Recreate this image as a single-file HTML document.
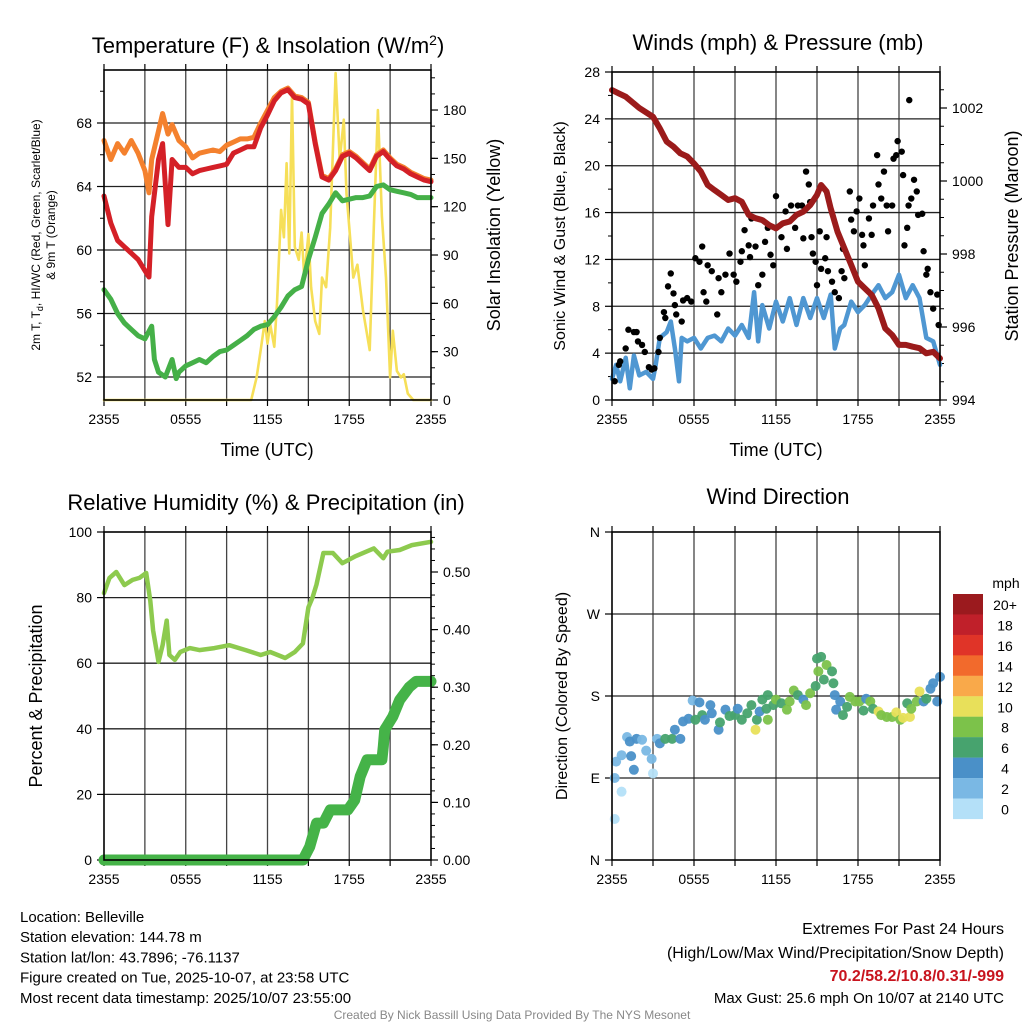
<!DOCTYPE html>
<html><head><meta charset="utf-8"><title>Belleville Meteogram</title>
<style>
html,body{margin:0;padding:0;background:#fff;}
svg{display:block;font-family:"Liberation Sans",Arial,sans-serif;}
</style></head>
<body>
<svg id="root" width="1024" height="1024" viewBox="0 0 1024 1024" xmlns="http://www.w3.org/2000/svg"></svg>
<script>
// ---------- DATA ----------
const xTickLabels = ["2355","0555","1155","1755","2355"];
// Panel 1: temperature (F)
const tempHours = [0,0.5,1,1.5,2,2.5,3,3.3,3.5,4,4.3,4.7,5,5.5,6,6.5,7,7.5,8,8.5,9,9.5,10,10.5,11,11.5,12,12.5,13,13.5,14,14.5,15,15.5,16,16.5,17,17.5,18,18.5,19,19.5,20,20.5,21,21.5,22,22.5,23,23.5,24];
const tempRed = [63.4,61.7,60.6,60.2,59.8,59.4,58.7,58.3,62.1,65.7,66.7,61.6,65.7,65.2,65.2,64.8,65.0,65.1,65.2,65.3,65.4,66.1,66.3,66.5,66.5,67.7,68.5,69.4,69.9,70.1,69.6,69.5,69.2,66.7,64.6,64.4,65.0,65.9,66.1,65.8,65.4,65.0,65.9,66.2,65.7,65.3,65.1,64.8,64.6,64.4,64.3];
const temp9m = [66.9,65.7,66.7,66.1,66.9,66.1,65.0,63.6,65.7,67.5,68.6,67.3,67.9,66.9,66.5,65.8,66.1,66.2,66.3,66.2,66.6,66.8,67.0,67.0,67.1,68.0,68.8,69.6,70.0,70.2,69.7,69.6,69.3,66.8,64.7,64.5,65.1,66.0,66.2,65.9,65.5,65.1,66.0,66.3,65.8,65.4,65.2,64.9,64.7,64.5,64.4];
const dewHours = [0,0.5,1,1.5,2,2.5,3,3.5,3.7,4,4.5,5,5.3,5.5,6,6.5,7,7.5,8,8.5,9,9.5,10,10.5,11,11.5,12,12.5,13,13.5,14,14.5,15,15.5,16,16.5,17,17.5,18,18.5,19,19.5,20,20.5,21,21.5,22,22.5,23,24];
const dewPoint = [57.5,56.9,56.0,55.4,55.0,54.6,54.4,55.2,53.1,52.3,52.0,53.1,51.9,52.3,52.7,52.9,53.1,52.9,53.3,53.6,53.7,54.0,54.3,54.6,55.0,55.2,55.3,55.8,56.4,57.1,57.5,57.7,59.4,60.8,62.3,62.9,63.6,63.1,63.2,63.3,63.3,63.4,64.0,64.1,63.8,63.7,63.6,63.5,63.3,63.3];
const solarHours = [0,10.8,11.2,11.5,11.8,12,12.2,12.5,12.7,13,13.2,13.4,13.6,13.8,14,14.3,14.5,14.7,15,15.2,15.5,15.8,16,16.3,16.6,17,17.3,17.6,17.8,18,18.3,18.6,19,19.5,19.8,20.1,20.4,20.7,21,21.2,21.5,21.8,22,22.3,22.7,24];
const solarValues = [0,0,14,31,49,35,47,33,60,118,101,147,91,190,95,87,104,76,103,70,49,41,76,70,107,203,149,174,128,107,76,84,56,31,107,180,114,76,14,43,18,14,16,4,0,0];
// Panel 2: winds (mph) and pressure (mb)
const windHours = [0,0.3,0.6,1,1.3,1.6,2,2.5,3,3.2,3.5,4,4.3,4.6,4.9,5.1,5.5,6,6.5,7,7.5,8,8.5,9,9.5,10,10.4,10.7,11,11.5,12,12.5,13,13.5,14,14.5,15,15.5,16,16.3,16.7,17,17.5,18,18.5,19,19.5,20,20.5,21,21.5,22,22.5,23,23.5,24];
const windSpeed = [1.8,3.0,1.6,3.6,1.0,3.8,2.1,2.4,1.8,3.0,5.3,5.8,6.7,4.4,1.6,5.3,5.0,5.3,4.4,5.3,5.5,5.0,6.1,5.5,6.4,5.3,9.2,5.0,8.1,6.1,8.4,6.7,8.7,6.4,8.7,7.0,8.7,7.0,9.0,4.4,6.1,6.4,8.4,7.5,8.1,9.0,9.8,8.7,9.2,10.7,8.7,9.8,8.7,5.3,5.0,3.0];
const gustHours = [0.2,0.5,0.6,1.0,1.2,1.6,1.8,1.9,2.2,2.4,2.7,2.9,3.1,3.4,3.5,3.8,3.9,4.1,4.3,4.5,4.6,4.7,5.1,5.2,5.5,5.8,6.1,6.4,6.6,6.7,6.9,7.0,7.3,7.7,7.8,8.0,8.3,8.6,8.9,9.1,9.4,9.5,9.7,10.0,10.1,10.2,10.5,10.7,11.0,11.2,11.4,11.6,11.8,12.0,12.4,12.7,12.8,13.1,13.4,13.6,13.9,14.0,14.2,14.4,14.5,14.6,14.7,14.9,15.0,15.2,15.3,15.6,15.7,15.8,16.1,16.3,16.6,16.8,16.9,17.0,17.4,17.5,17.7,17.9,18.1,18.3,18.4,18.5,18.8,19.0,19.1,19.4,19.5,19.7,19.9,20.1,20.2,20.5,20.6,20.8,20.9,21.2,21.3,21.4,21.6,21.7,21.75,21.9,22.1,22.3,22.4,22.7,22.8,23.0,23.1,23.3,23.5,23.8,23.9];
const gustSpeed = [1.6,3.0,3.3,4.4,6.0,5.8,5.8,5.0,4.7,4.1,2.8,2.6,2.7,4.1,5.3,7.5,7.0,9.7,10.8,9.1,8.1,7.3,6.7,8.5,8.7,8.4,12.1,11.8,13.1,9.2,8.4,11.5,11.0,7.3,10.4,9.2,10.7,12.5,10.7,10.1,11.8,12.7,14.5,13.2,12.2,15.5,13.1,9.8,10.7,13.5,14.7,12.4,11.5,17.4,13.9,16.1,12.9,16.6,14.7,16.6,16.6,13.8,19.5,18.4,16.9,13.9,12.5,11.8,9.8,14.4,11.2,12.1,13.9,11.0,10.1,9.2,8.7,11.0,12.9,10.4,17.8,15.4,14.4,16.1,17.2,14.1,13.2,11.5,15.5,14.1,16.6,20.9,18.4,17.2,19.5,16.6,14.4,16.6,20.6,20.9,22.1,21.2,19.2,13.2,14.7,16.6,25.6,17.2,18.8,17.8,15.8,15.9,12.7,10.7,11.2,9.2,7.8,9.0,6.4];
const presHours = [0,0.5,1,2,3,3.5,4,4.5,5,5.5,6,6.5,7,7.5,8,8.5,9,9.5,10,10.5,11,11.5,12,12.5,13,13.5,14,14.5,15,15.3,15.7,16,16.5,17,17.5,18,18.5,19,19.5,20,20.5,21,21.5,22,22.5,23,23.5,24];
const presValues = [1002.49,1002.40,1002.31,1002.0,1001.76,1001.44,1001.08,1000.94,1000.76,1000.67,1000.48,1000.26,999.89,999.75,999.62,999.48,999.53,999.43,999.07,998.98,998.93,998.79,998.70,998.84,998.89,999.07,999.16,999.34,999.62,999.89,999.71,999.25,998.61,998.16,997.70,997.24,997.06,996.88,996.51,995.96,995.78,995.51,995.51,995.46,995.42,995.28,995.32,995.14];
// Panel 3: RH (%) and precip (in)
const rhHours = [0,0.4,0.9,1.5,2.1,2.6,3.1,3.4,3.6,4.0,4.3,4.6,4.8,5.2,5.6,6.3,7.0,8.1,9.2,10.4,11.5,12.2,13.3,14.0,14.6,15.0,15.3,15.6,16.1,16.8,17.5,18.4,19.8,20.5,20.8,21.7,22.6,24];
const rhValues = [81.4,86,87.8,83.8,85.4,86,87.5,79,70,60.4,65.5,73,62.5,61,63.4,64.6,64,64.6,65.5,64,62.5,63.4,61.6,63.4,66,77,80,84,93.6,93.6,90.5,92.5,95,92,94,94.5,96,97];
const prHours = [0,14.6,15.1,15.6,16.1,16.6,17.9,18.4,18.8,19.3,20.4,20.5,20.6,21.2,21.7,22.4,22.9,24];
const prValues = [0,0,0.023,0.064,0.064,0.087,0.087,0.104,0.145,0.174,0.174,0.197,0.226,0.249,0.278,0.300,0.31,0.31];
// Panel 4: wind direction (deg) colored by speed (mph)
const dirHours = [0.2,0.7,0.2,0.3,0.7,1.1,1.3,1.4,1.6,1.8,2.2,2.5,2.9,3.0,3.3,3.5,3.9,4.4,4.6,5.0,5.2,5.6,5.9,6.1,6.4,6.6,6.8,7.2,7.3,7.8,7.9,8.3,8.6,9.0,9.2,9.5,9.9,10.2,10.5,10.6,10.8,11.0,11.3,11.4,11.4,11.8,12.0,12.4,12.8,13.0,13.3,13.6,14.0,14.2,14.5,14.9,15.1,15.0,15.3,15.5,15.7,16.1,16.2,16.3,16.4,16.7,16.9,17.2,17.4,17.8,18.1,18.4,18.6,18.9,19.1,19.5,19.7,20.1,20.5,20.8,21.1,21.3,21.6,21.8,21.9,22.3,22.5,22.8,23.0,23.3,23.5,23.8,24.0];
const dirValues = [45,75,90,108,115,135,130,114,99,133,132,120,111,95,133,128,133,133,143,133,152,155,175,154,173,159,154,170,161,143,151,165,158,159,166,154,161,170,143,154,163,176,166,154,181,170,176,172,165,174,186,181,176,170,183,191,207,221,223,198,214,207,194,181,165,174,159,168,179,174,174,164,177,174,166,163,159,157,157,162,154,156,172,157,166,174,185,174,177,188,194,174,201];
const dirSpeeds = [1,1,3,3,3,3,4.5,4.5,4.5,4.5,3,3,3,1,3,4.5,6.5,6.5,4.5,4.5,4.5,4.5,3,7,4.5,7,4.5,4.5,4.5,4.5,7,4.5,7,7,4.5,7,7,7,10.5,7,4.5,7,7,8.5,7,7,8.5,7,8.5,8.5,8.5,7,4.5,8.5,8.5,7,8.5,7,7,7,8.5,7,7,4.5,4.5,4.5,7,7,8.5,8.5,8.5,7,4.5,8.5,7,10.5,8.5,8.5,8.5,10.5,8.5,10.5,7,10.5,8.5,8.5,10.5,4.5,7,4.5,4.5,4.5,4.5];
const cbLabels = ["20+","18","16","14","12","10","8","6","4","2","0"];
const cbColors = ["#9b1a1e","#c0202a","#e03428","#f26a2c","#f9a94a","#e8e05a","#7cc24a","#47a36e","#4a90c8","#7ab8e4","#b4e0f8"];

// ---------- HELPERS ----------
const NS="http://www.w3.org/2000/svg";
const root=document.getElementById('root');
function mk(tag,parent,attrs){const e=document.createElementNS(NS,tag);for(const k in attrs)e.setAttribute(k,attrs[k]);(parent||root).appendChild(e);return e;}
function txt(parent,x,y,s,size,anchor,extra){const t=mk('text',parent,Object.assign({x:x,y:y,'font-size':size,'text-anchor':anchor||'middle',fill:'#000'},extra||{}));t.textContent=s;return t;}
function speedColor(s){let i=Math.min(10,Math.floor(s/2));return cbColors[10-i];}

function frame(g,P,hGridVals,yFn){
  for(let h=3;h<24;h+=3){const x=P.xs(h);const l=mk('line',g,{x1:x,x2:x,y1:P.y0,y2:P.y1,stroke:'#444','stroke-width':1.3});
    
    }
  hGridVals.forEach(v=>{const y=yFn(v);const l=mk('line',g,{x1:P.x0,x2:P.x1,y1:y,y2:y,stroke:'#222','stroke-width':1.3});
    
    });
  for(let h=0;h<=24;h+=3){const x=P.xs(h);
    mk('line',g,{x1:x,x2:x,y1:P.y1,y2:P.y1+6,stroke:'#000','stroke-width':1.2});
    mk('line',g,{x1:x,x2:x,y1:P.y0,y2:P.y0-6,stroke:'#000','stroke-width':1.2});}
  xTickLabels.forEach((s,i)=>{const t=txt(g,P.xs(i*6),P.y1+24,s,14);
    
    });
}
function border(g,P){const r=mk('rect',g,{x:P.x0,y:P.y0,width:P.x1-P.x0,height:P.y1-P.y0,fill:'none',stroke:'#000','stroke-width':1.6});
  
  }
function yTicks(g,P,side,vals,yFn,labels,minor){
  const x=side==='l'?P.x0:P.x1, d=side==='l'?-1:1;
  minor.forEach(v=>{const y=yFn(v);mk('line',g,{x1:x,x2:x+d*4,y1:y,y2:y,stroke:'#000','stroke-width':1});});
  vals.forEach((v,i)=>{const y=yFn(v);mk('line',g,{x1:x,x2:x+d*7,y1:y,y2:y,stroke:'#000','stroke-width':1.2});
    if(labels[i]!==null){const t=txt(g,x+d*12,y+5,labels[i],14,side==='l'?'end':'start');
      
      }});
}
function line(g,P,xs,ys,yFn,color,w,name){
  const pts=xs.map((h,i)=>P.xs(h).toFixed(1)+','+yFn(ys[i]).toFixed(1)).join(' ');
  const p=mk('polyline',g,{points:pts,fill:'none',stroke:color,'stroke-width':w,'stroke-linejoin':'round','stroke-linecap':'round'});
  
  
  return p;}
function rotText(g,x,y,s,size,name){const t=txt(g,x,y,s,size,'middle',{transform:'rotate(-90 '+x+' '+y+')'});
  
  return t;}
function mkPanel(x0,x1,y0,y1){return {x0,x1,y0,y1,xs:h=>x0+h*(x1-x0)/24};}
function range(a,b,s){const r=[];for(let v=a;v<=b+1e-9;v+=s)r.push(+v.toFixed(4));return r;}

// ---------- PANEL 1 ----------
const P1=mkPanel(104,431,70,400);
const yT=t=>377-(t-52)*15.875, yS=s=>400-s*1.611;
const g1=mk('g',root,{});


frame(g1,P1,[52,56,60,64,68],yT);
yTicks(g1,P1,'l',[52,56,60,64,68],yT,["52","56","60","64","68"],[54,58,62,66,70]);
yTicks(g1,P1,'r',range(0,180,30),yS,["0","30","60","90","120","150","180"],range(0,200,10));
line(g1,P1,solarHours,solarValues,yS,'#f6df58',2.6,'solar-insolation-line');
line(g1,P1,dewHours,dewPoint,yT,'#45b048',5,'dewpoint-line');
line(g1,P1,tempHours,temp9m,yT,'#f4812e',5,'9m-temperature-line');
line(g1,P1,tempHours,tempRed,yT,'#d42027',5,'2m-temperature-line');
border(g1,P1);
let t;
t=txt(g1,268,53,'',22);t.innerHTML='Temperature (F) &amp; Insolation (W/m<tspan dy="-8" font-size="14">2</tspan><tspan dy="8">)</tspan>';


t=txt(g1,267,456,'Time (UTC)',18);


t=txt(g1,40,235,'',12,'middle',{transform:'rotate(-90 40 235)'});t.innerHTML='2m T, T<tspan font-size="9" dy="3">d</tspan><tspan dy="-3">, HI/WC (Red, Green, Scarlet/Blue)</tspan>';


rotText(g1,55,235,'& 9m T (Orange)',12,'left-y-axis-title-line2');
rotText(g1,500,235,'Solar Insolation (Yellow)',18,'right-y-axis-title');

// ---------- PANEL 2 ----------
const P2=mkPanel(612,940,72,400);
const yW=w=>400-w*328/28, yP=p=>400-(p-994)*36.5;
const g2=mk('g',root,{});


frame(g2,P2,range(4,24,4),yW);
yTicks(g2,P2,'l',range(0,28,4),yW,["0","4","8","12","16","20","24","28"],range(2,26,4));
yTicks(g2,P2,'r',[994,996,998,1000,1002],yP,["994","996","998","1000","1002"],range(994,1002.9,0.5));
line(g2,P2,windHours,windSpeed,yW,'#4f97d2',4.5,'sonic-wind-line');
gustHours.forEach((h,i)=>{const c=mk('circle',g2,{cx:P2.xs(h),cy:yW(gustSpeed[i]),r:3.2,fill:'#000'});
  
  });
line(g2,P2,presHours,presValues,yP,'#9b1b1b',6,'pressure-line');
border(g2,P2);
t=txt(g2,778,50,'Winds (mph) & Pressure (mb)',22);


t=txt(g2,776,456,'Time (UTC)',18);


rotText(g2,565,236,'Sonic Wind & Gust (Blue, Black)',16,'left-y-axis-title');
rotText(g2,1018,236,'Station Pressure (Maroon)',18,'right-y-axis-title');

// ---------- PANEL 3 ----------
const P3=mkPanel(104,431,532,860);
const yR=r=>860-r*3.28, yPr=p=>860-p*576;
const g3=mk('g',root,{});


frame(g3,P3,range(20,80,20),yR);
yTicks(g3,P3,'l',range(0,100,20),yR,["0","20","40","60","80","100"],[]);
yTicks(g3,P3,'r',range(0,0.5,0.1),yPr,["0.00","0.10","0.20","0.30","0.40","0.50"],range(0,0.56,0.02));
line(g3,P3,rhHours,rhValues,yR,'#8dca4e',4.5,'relative-humidity-line');
line(g3,P3,prHours,prValues,yPr,'#45b348',11,'precipitation-line');
border(g3,P3);
t=txt(g3,266,510,'Relative Humidity (%) & Precipitation (in)',22);


rotText(g3,42,696,'Percent & Precipitation',18,'left-y-axis-title');

// ---------- PANEL 4 ----------
const P4=mkPanel(612,940,532,860);
const yD=d=>860-d*328/360;
const g4=mk('g',root,{});


frame(g4,P4,[90,180,270],yD);
yTicks(g4,P4,'l',[0,90,180,270,360],yD,["N","E","S","W","N"],[]);
dirHours.forEach((h,i)=>{const c=mk('circle',g4,{cx:P4.xs(h),cy:yD(dirValues[i]),r:5,fill:speedColor(dirSpeeds[i]),'fill-opacity':0.95});
  
  });
border(g4,P4);
t=txt(g4,778,504,'Wind Direction',22);


rotText(g4,567,696,'Direction (Colored By Speed)',16,'left-y-axis-title');
const gc=mk('g',root,{});


t=txt(gc,1006,588,'mph',14);


cbLabels.forEach((s,i)=>{const y=594+i*20.45;
  const r=mk('rect',gc,{x:953,y:y,width:30,height:20.6,fill:cbColors[i]});
  
  
  const tl=txt(gc,1005,y+16,s,14);
  
  });

// ---------- FOOTER TEXT ----------
const info=["Location: Belleville","Station elevation: 144.78 m","Station lat/lon: 43.7896; -76.1137","Figure created on Tue, 2025-10-07, at 23:58 UTC","Most recent data timestamp: 2025/10/07 23:55:00"];
info.forEach((s,i)=>{const tt=txt(root,20,922+i*20.2,s,15,'start');
  
  });
t=txt(root,1004,934,'Extremes For Past 24 Hours',16,'end');


t=txt(root,1004,958,'(High/Low/Max Wind/Precipitation/Snow Depth)',16,'end');


t=txt(root,1004,981,'70.2/58.2/10.8/0.31/-999',16,'end',{fill:'#c8141e','font-weight':'bold'});


t=txt(root,1004,1003,'Max Gust: 25.6 mph On 10/07 at 2140 UTC',15,'end');


t=txt(root,512,1019,'Created By Nick Bassill Using Data Provided By The NYS Mesonet',12,'middle',{fill:'#888'});


</script>
</body></html>
